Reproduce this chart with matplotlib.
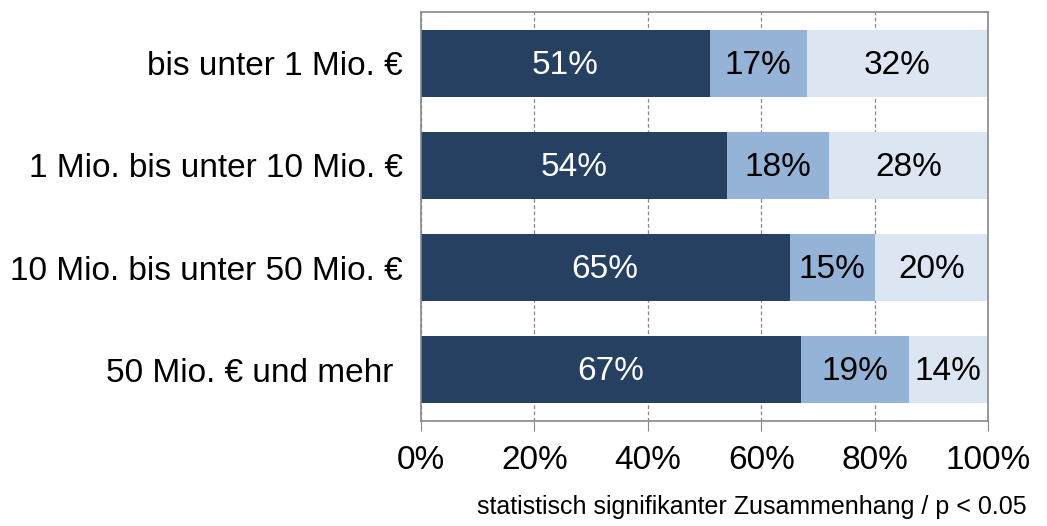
import matplotlib.pyplot as plt
import numpy as np

plt.rcParams['font.family'] = ['Liberation Sans', 'DejaVu Sans']

# Daten
kategorien = ['bis unter 1 Mio. €', '1 Mio. bis unter 10 Mio. €',
              '10 Mio. bis unter 50 Mio. €', '50 Mio. € und mehr ']
teil1 = [51, 54, 65, 67]
teil2 = [17, 18, 15, 19]
teil3 = [32, 28, 20, 14]
farben = ['#264061', '#95b3d7', '#dce6f2']
textfarben = ['white', 'black', 'black']
xticks = [0, 20, 40, 60, 80, 100]

fig = plt.figure(figsize=(10.47, 5.26), dpi=100)
ax = fig.add_axes([0.402, 0.1996, 0.5417, 0.7774])

y = np.arange(len(kategorien))
links = np.zeros(len(kategorien))
for werte, farbe, tfarbe in zip([teil1, teil2, teil3], farben, textfarben):
    werte = np.array(werte)
    ax.barh(y, werte, left=links, height=0.655, color=farbe, zorder=2)
    for yi, l, w in zip(y, links, werte):
        ax.text(l + w / 2, yi + 0.02, f'{w}%', ha='center', va='center',
                color=tfarbe, fontsize=24, zorder=3)
    links = links + werte

ax.set_xlim(0, 100)
ax.set_ylim(len(kategorien) - 0.5, -0.5)
ax.set_yticks(y)
ax.set_yticklabels(kategorien, fontsize=24)
ax.set_xticks(xticks)
ax.set_xticklabels([f'{t}%' for t in xticks], fontsize=24)
ax.tick_params(axis='y', length=0, pad=13)
ax.tick_params(axis='x', length=7.5, color='#888888', direction='out', pad=10)
ax.xaxis.grid(True, linestyle=(0, (3, 2)), color='#888888', linewidth=0.9, zorder=1)
for s in ax.spines.values():
    s.set_color('#888888')
    s.set_linewidth(1.2)

fig.text(0.981, 0.013, 'statistisch signifikanter Zusammenhang / p < 0.05',
         ha='right', va='bottom', fontsize=18)

plt.savefig('out.png', dpi=100)
